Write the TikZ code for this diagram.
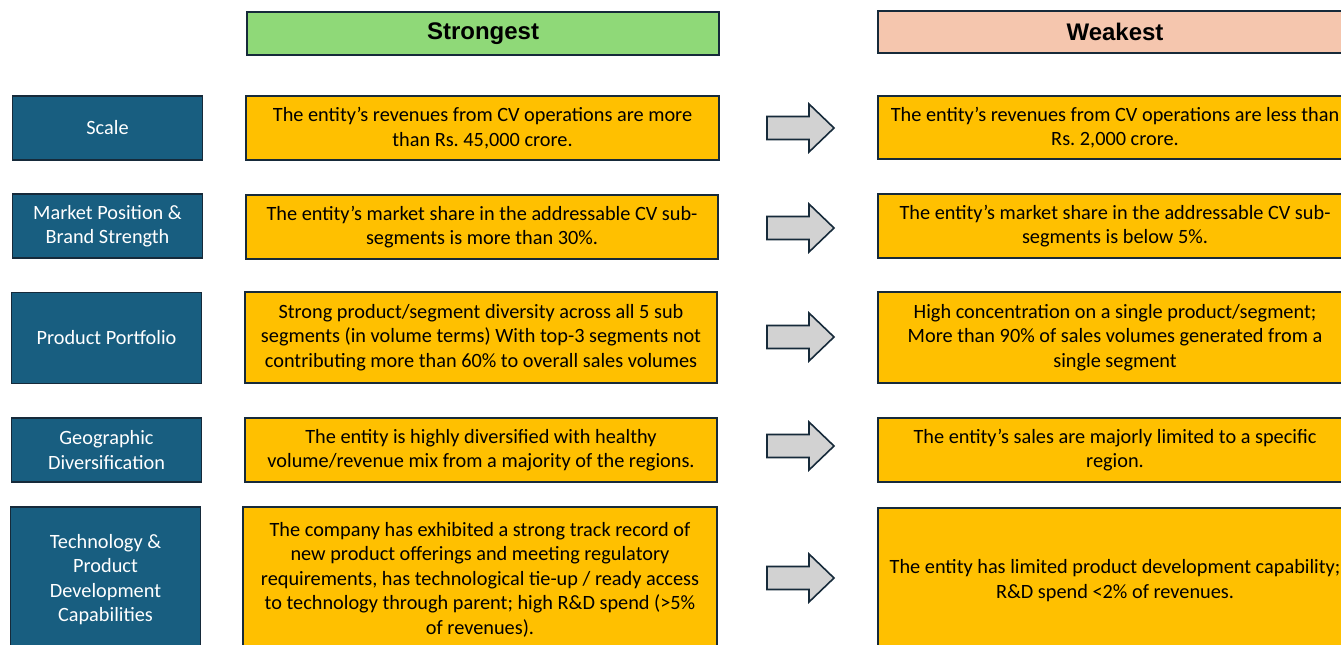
\documentclass[tikz,border=0pt]{standalone}
\usepackage{fontspec}
\setmainfont{Carlito}
\newfontfamily\hdrfont{Liberation Sans}
\frenchspacing
\definecolor{catblue}{RGB}{24,94,128}
\definecolor{edge}{RGB}{22,42,58}
\definecolor{gold}{RGB}{255,192,0}
\definecolor{hdrgreen}{RGB}{143,217,120}
\definecolor{hdrpeach}{RGB}{245,198,174}
\definecolor{arrowgray}{RGB}{210,210,210}
\tikzset{
  box/.style={draw=edge, line width=1.6pt, inner sep=0pt, align=center,
    font=\frenchspacing\fontsize{20.3}{24.5}\selectfont},
  cat/.style={box, fill=catblue, text=white, minimum width=190pt},
  crit/.style={box, fill=gold, text=black},
  hdr/.style={draw=edge, line width=1.6pt, inner sep=0pt, align=center,
    font=\hdrfont\bfseries\fontsize{24}{26}\selectfont},
  arr/.style={draw=edge, line width=1.6pt, fill=arrowgray, line join=miter}
}
\newcommand\bigarrow[2]{%
  \coordinate (#1) at (800,#2);
  \draw[arr, shift={(#1)}] (-33,-11.5) -- (9,-11.5) -- (9,-24) -- (34,0)
    -- (9,24) -- (9,11.5) -- (-33,11.5) -- cycle;}
\begin{document}
\begin{tikzpicture}[x=1pt,y=-1pt]
\useasboundingbox (0,0) rectangle (1341,645);
\clip (0,0) rectangle (1341,645);
% headers
\node[hdr, fill=hdrgreen, minimum width=472pt, minimum height=43pt] (hs) at (483,33.5) {Strongest};
\node[hdr, fill=hdrpeach, minimum width=474pt, minimum height=42pt] (hw) at (1115,32) {Weakest};
% categories
\node[cat, minimum height=64pt] (c1) at (107.5,128) {Scale};
\node[cat, minimum height=64pt] (c2) at (107.5,226) {Market Position \&\\Brand Strength};
\node[cat, minimum height=91pt] (c3) at (106.5,338) {Product Portfolio};
\node[cat, minimum height=64pt] (c4) at (106.5,450) {Geographic\\Diversification};
\node[cat, minimum height=145pt] (c5) at (105.5,579.5) {Technology \&\\Product\\Development\\Capabilities};
% strongest
\node[crit, minimum width=473pt, minimum height=64pt] (s1) at (482.5,128) {The entity’s revenues from CV operations are more\\than Rs. 45,000 crore.};
\node[crit, minimum width=472pt, minimum height=64pt] (s2) at (482,227) {The entity’s market share in the addressable CV sub-\\segments is more than 30\%.};
\node[crit, minimum width=472pt, minimum height=91pt] (s3) at (481,337.5) {Strong product/segment diversity across all 5 sub\\segments (in volume terms) With top-3 segments not\\contributing more than 60\% to overall sales volumes};
\node[crit, minimum width=472pt, minimum height=64pt] (s4) at (481,450) {The entity is highly diversified with healthy\\volume/revenue mix from a majority of the regions.};
\node[crit, minimum width=474pt, minimum height=145pt] (s5) at (480,579.5) {The company has exhibited a strong track record of\\new product offerings and meeting regulatory\\requirements, has technological tie-up / ready access\\to technology through parent; high R\&D spend (>5\%\\of revenues).};
% weakest
\node[crit, minimum width=474pt, minimum height=63pt] (w1) at (1115,127.5) {The entity’s revenues from CV operations are less than\\Rs. 2,000 crore.};
\node[crit, minimum width=474pt, minimum height=64pt] (w2) at (1115,226) {The entity’s market share in the addressable CV sub-\\segments is below 5\%.};
\node[crit, minimum width=474pt, minimum height=91pt] (w3) at (1115,337.5) {High concentration on a single product/segment;\\More than 90\% of sales volumes generated from a\\single segment};
\node[crit, minimum width=474pt, minimum height=64pt] (w4) at (1115,450) {The entity’s sales are majorly limited to a specific\\region.};
\node[crit, minimum width=474pt, minimum height=145pt] (w5) at (1115,580.5) {The entity has limited product development capability;\\R\&D spend <2\% of revenues.};
% arrows
\bigarrow{a1}{128}
\bigarrow{a2}{228}
\bigarrow{a3}{337}
\bigarrow{a4}{446}
\bigarrow{a5}{578}
\end{tikzpicture}
\end{document}
